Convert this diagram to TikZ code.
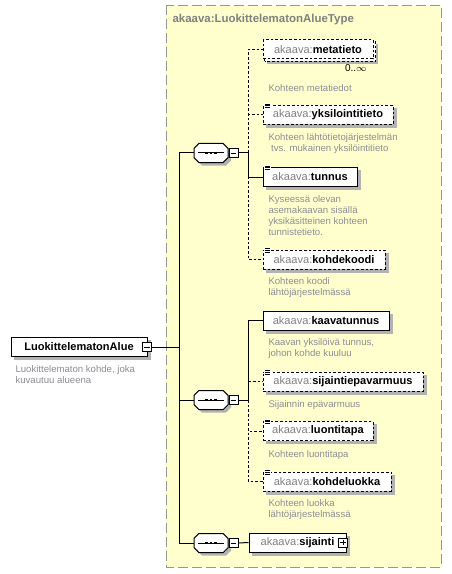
\documentclass[tikz,border=0pt]{standalone}
\usepackage{fontspec}
\setmainfont{Liberation Sans}
\usepackage{xcolor}
\usepackage{tikz}
\usetikzlibrary{positioning}
\usetikzlibrary{backgrounds}

\definecolor{typeYellow}{RGB}{255,255,206}
\definecolor{frameGray}{RGB}{150,150,150}
\definecolor{prefixGray}{RGB}{128,128,128}
\definecolor{descGray}{RGB}{140,140,148}
\definecolor{shadowGray}{RGB}{178,178,178}

\newcommand{\elName}[1]{{\color{prefixGray}akaava:}\textbf{#1}}
\newcommand{\textMark}[1]{%
	\fill[white] ([xshift=1.2pt,yshift=1.2pt]#1.north west) rectangle ([xshift=6.2pt,yshift=-2.8pt]#1.north west);
	\foreach \k in {0,1,2} {\draw[line width=0.5pt] ([xshift=1.8pt,yshift=0.8pt-\k*1.3pt]#1.north west) -- ++(3.8pt,0);}
}
\newcommand{\boxShadow}[1]{%
	\fill[shadowGray] ([xshift=2.25pt,yshift=-2.25pt]#1.south west) rectangle ([xshift=2.25pt,yshift=-2.25pt]#1.north east);
}
\newcommand{\octagon}[3]{%
	\path[#1] ([xshift=#3+3.6pt,yshift=-#3]#2.north west) -- ([xshift=#3-3.6pt,yshift=-#3]#2.north east) -- ([xshift=#3,yshift=-#3-3.6pt]#2.north east) -- ([xshift=#3,yshift=-#3+3.6pt]#2.south east) -- ([xshift=#3-3.6pt,yshift=-#3]#2.south east) -- ([xshift=#3+3.6pt,yshift=-#3]#2.south west) -- ([xshift=#3,yshift=-#3+3.6pt]#2.south west) -- ([xshift=#3,yshift=-#3-3.6pt]#2.north west) -- cycle;
}

\begin{document}
\begin{tikzpicture}[
			line width=0.75pt,
			typeFrame/.style = { draw = frameGray, fill = typeYellow, dash pattern = on 7.5pt off 3pt },
			elemBox/.style = { rectangle, draw, fill = white, anchor = center, minimum height = 19*\onePx, inner xsep = 2pt, inner ysep = 0pt, font = \fontsize{8.3}{10}\selectfont, text = black },
			optBox/.style = { elemBox, dash pattern = on 2pt off 1.5pt },
			desc/.style = { anchor = north west, font = \fontsize{7.2}{8.3}\selectfont, text = descGray, align = left, inner sep = 0pt },
			seqBox/.style = { rectangle, minimum width = 34*\onePx, minimum height = 19*\onePx, inner sep = 0pt, outer sep = 0pt,
				path picture = { \draw ([xshift=3pt]path picture bounding box.west) -- ([xshift=-3pt]path picture bounding box.east);
					\foreach \d in {-3.6pt,0pt,3.6pt} {\fill ([xshift=\d]path picture bounding box.center) +(-1.1pt,-1.1pt) rectangle +(1.1pt,1.1pt);} } },
			minusBox/.style = { rectangle, draw, fill = white, minimum size = 9*\onePx, inner sep = 0pt, line width = 0.6pt,
				path picture = { \draw ([xshift=1.3pt]path picture bounding box.west) -- ([xshift=-1.3pt]path picture bounding box.east); } },
			plusBox/.style = { rectangle, draw, fill = white, minimum size = 9*\onePx, inner sep = 0pt, line width = 0.6pt,
				path picture = { \draw ([xshift=1.3pt]path picture bounding box.west) -- ([xshift=-1.3pt]path picture bounding box.east);
					\draw ([yshift=-1.3pt]path picture bounding box.north) -- ([yshift=1.3pt]path picture bounding box.south); } },
			optLine/.style = { dash pattern = on 2pt off 1.5pt },
				]
		\def\onePx{0.75pt}

		\useasboundingbox (0,0) rectangle (452*\onePx,-574*\onePx);

		\node[anchor = west, inner sep = 0pt, text = prefixGray, font = \fontsize{8.6}{10}\selectfont\bfseries] (typeTitle) at (172*\onePx,-20*\onePx) {akaava:LuokittelematonAlueType};

		% root element
		\node[elemBox, minimum width = 136*\onePx, font = \fontsize{8.3}{10}\selectfont\bfseries] (rootElem) at (79*\onePx,-347*\onePx) {LuokittelematonAlue};
		\node[minusBox] (rootToggle) at (147*\onePx,-347*\onePx) {};
		\node[desc] (rootDesc) at (15*\onePx,-365*\onePx) {Luokittelematon kohde, joka\\kuvautuu alueena};

		% sequences
		\node[seqBox] (seqOne) at (211*\onePx,-153*\onePx) {};
		\node[minusBox] (seqOneToggle) at (233.5*\onePx,-153*\onePx) {};
		\node[seqBox] (seqTwo) at (211*\onePx,-400*\onePx) {};
		\node[minusBox] (seqTwoToggle) at (233.5*\onePx,-400*\onePx) {};
		\node[seqBox] (seqThree) at (211*\onePx,-543*\onePx) {};
		\node[minusBox] (seqThreeToggle) at (233.5*\onePx,-543*\onePx) {};
		\octagon{draw}{seqOne}{0pt}
		\octagon{draw}{seqTwo}{0pt}
		\octagon{draw}{seqThree}{0pt}

		% first sequence
		\node[optBox, minimum width = 110*\onePx] (metatieto) at (318*\onePx,-49.5*\onePx) {\elName{metatieto}};
		\node[inner sep = 0pt, font = \fontsize{7.5}{9}\selectfont] (metatietoCount) at (356*\onePx,-68*\onePx) {0..$\infty$};
		\node[desc] (metatietoDesc) at (268*\onePx,-84*\onePx) {Kohteen metatiedot};

		\node[optBox, minimum width = 130*\onePx] (yksilointitieto) at (328*\onePx,-115*\onePx) {\elName{yksilointitieto}};
		\node[desc] (yksilointitietoDesc) at (268*\onePx,-133*\onePx) {Kohteen lähtötietojärjestelmän\\\ tvs. mukainen yksilöintitieto};

		\node[elemBox, minimum width = 94*\onePx] (tunnus) at (310*\onePx,-177*\onePx) {\elName{tunnus}};
		\node[desc] (tunnusDesc) at (268*\onePx,-195*\onePx) {Kyseessä olevan\\asemakaavan sisällä\\yksikäsitteinen kohteen\\tunnistetieto.};

		\node[optBox, minimum width = 122*\onePx] (kohdekoodi) at (324*\onePx,-259.5*\onePx) {\elName{kohdekoodi}};
		\node[desc] (kohdekoodiDesc) at (268*\onePx,-277*\onePx) {Kohteen koodi\\lähtöjärjestelmässä};

		% second sequence
		\node[elemBox, minimum width = 126*\onePx] (kaavatunnus) at (326*\onePx,-320.5*\onePx) {\elName{kaavatunnus}};
		\node[desc] (kaavatunnusDesc) at (268*\onePx,-338*\onePx) {Kaavan yksilöivä tunnus,\\johon kohde kuuluu};

		\node[optBox, minimum width = 160*\onePx] (sijaintiepavarmuus) at (343*\onePx,-381.5*\onePx) {\elName{sijaintiepavarmuus}};
		\node[desc] (sijaintiepavarmuusDesc) at (268*\onePx,-400*\onePx) {Sijainnin epävarmuus};

		\node[optBox, minimum width = 110*\onePx] (luontitapa) at (318*\onePx,-431*\onePx) {\elName{luontitapa}};
		\node[desc] (luontitapaDesc) at (268*\onePx,-450*\onePx) {Kohteen luontitapa};

		\node[optBox, minimum width = 128*\onePx] (kohdeluokka) at (327*\onePx,-481.5*\onePx) {\elName{kohdeluokka}};
		\node[desc] (kohdeluokkaDesc) at (268*\onePx,-499*\onePx) {Kohteen luokka\\lähtöjärjestelmässä};

		% third sequence
		\node[elemBox, minimum width = 97*\onePx] (sijainti) at (297.5*\onePx,-542.5*\onePx) {\elName{sijainti}\hspace{6pt}};
		\node[plusBox] (sijaintiToggle) at (343*\onePx,-542.5*\onePx) {};

		\textMark{yksilointitieto}
		\textMark{tunnus}
		\textMark{kohdekoodi}
		\textMark{sijaintiepavarmuus}
		\textMark{luontitapa}
		\textMark{kohdeluokka}

		% connectors
		\coordinate (trunk) at (179*\onePx,-347*\onePx);
		\coordinate (joinOne) at (248*\onePx,-153*\onePx);
		\coordinate (joinTwo) at (248*\onePx,-400*\onePx);

		\draw (rootToggle.east) -- (trunk) |- (seqOne.west);
		\draw (trunk) |- (seqTwo.west);
		\draw (trunk) |- (seqThree.west);

		\draw (seqOneToggle.east) -- (joinOne);
		\draw [optLine] (joinOne) |- (metatieto.west);
		\draw [optLine] (joinOne) |- (yksilointitieto.west);
		\draw (joinOne) |- (tunnus.west);
		\draw [optLine] (joinOne) |- (kohdekoodi.west);

		\draw (seqTwoToggle.east) -- (joinTwo);
		\draw (joinTwo) |- (kaavatunnus.west);
		\draw [optLine] (joinTwo) |- (sijaintiepavarmuus.west);
		\draw [optLine] (joinTwo) |- (luontitapa.west);
		\draw [optLine] (joinTwo) |- (kohdeluokka.west);

		\draw (seqThreeToggle.east) -- (sijainti.west);

		% frame, shadows
		\begin{scope}[on background layer]
			\fill[white] (0,0) rectangle (452*\onePx,-574*\onePx);
			\draw[typeFrame] (166*\onePx,-5*\onePx) rectangle (441*\onePx,-567*\onePx);
			\foreach \b in {rootElem, yksilointitieto, tunnus, kohdekoodi, kaavatunnus, sijaintiepavarmuus, luontitapa, kohdeluokka, sijainti} {\boxShadow{\b}}
			\fill[shadowGray] ([xshift=3.4pt,yshift=-3.4pt]metatieto.south west) rectangle ([xshift=3.4pt,yshift=-3.4pt]metatieto.north east);
			\draw[optLine, fill = white] ([xshift=1.5pt,yshift=-1.5pt]metatieto.south west) rectangle ([xshift=1.5pt,yshift=-1.5pt]metatieto.north east);
			\foreach \s in {seqOne, seqTwo, seqThree} {\octagon{fill = shadowGray}{\s}{2.25pt} \octagon{fill = white}{\s}{0pt}}
		\end{scope}
		\end{tikzpicture}
\end{document}
